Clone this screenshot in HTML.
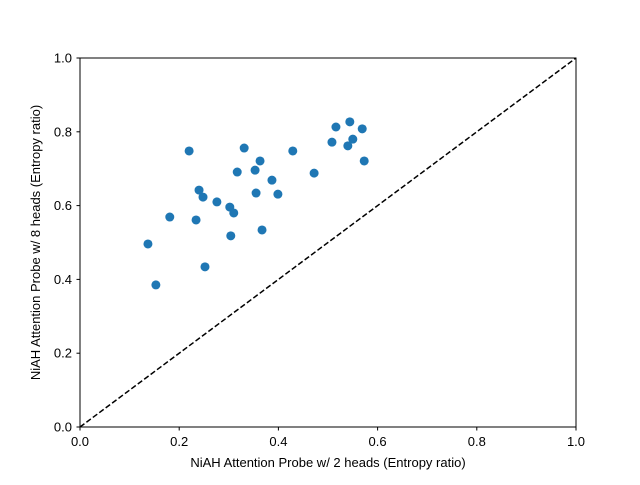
<!DOCTYPE html>
<html><head><meta charset="utf-8"><style>
body{margin:0;background:#fff;}
svg text{font-family:"Liberation Sans","DejaVu Sans",sans-serif;font-size:13px;fill:#000;}
</style></head><body>
<svg id="chart" width="640" height="480">
<rect x="0" y="0" width="640" height="480" fill="#fff"/>
<g id="ticks"></g>
<line id="diag" stroke="#000" stroke-width="1.5" stroke-dasharray="5.5,2.5"/>
<g id="pts"></g>
<rect x="80" y="58" width="496" height="369" fill="none" stroke="#000" stroke-width="1"/>
<text x="328" y="467" text-anchor="middle">NiAH Attention Probe w/ 2 heads (Entropy ratio)</text>
<text transform="translate(40,242.5) rotate(-90)" text-anchor="middle">NiAH Attention Probe w/ 8 heads (Entropy ratio)</text>
</svg>
<script>
const xs=[0.137,0.153,0.181,0.220,0.234,0.240,0.248,0.252,0.276,0.302,0.304,0.310,0.317,0.331,0.353,0.355,0.363,0.367,0.387,0.399,0.429,0.472,0.508,0.516,0.540,0.544,0.550,0.569,0.573];
const ys=[0.496,0.385,0.569,0.748,0.561,0.642,0.623,0.434,0.610,0.596,0.518,0.580,0.691,0.756,0.696,0.634,0.721,0.534,0.669,0.631,0.748,0.688,0.772,0.813,0.762,0.827,0.780,0.808,0.721];
const tickVals=[0,0.2,0.4,0.6,0.8,1.0];
const tickLabels=["0.0","0.2","0.4","0.6","0.8","1.0"];
const X=v=>80+v*496, Y=v=>427-v*369;
const NS="http://www.w3.org/2000/svg";
const tg=document.getElementById('ticks');
tickVals.forEach((v,i)=>{
  let l=document.createElementNS(NS,'line');
  l.setAttribute('x1',X(v));l.setAttribute('x2',X(v));l.setAttribute('y1',427);l.setAttribute('y2',430.5);l.setAttribute('stroke','#000');
  
  
  tg.appendChild(l);
  let t=document.createElementNS(NS,'text');
  t.setAttribute('x',X(v));t.setAttribute('y',446);t.setAttribute('text-anchor','middle');t.textContent=tickLabels[i];
  
  
  tg.appendChild(t);
  let l2=document.createElementNS(NS,'line');
  l2.setAttribute('x1',76.5);l2.setAttribute('x2',80);l2.setAttribute('y1',Y(v));l2.setAttribute('y2',Y(v));l2.setAttribute('stroke','#000');
  
  
  tg.appendChild(l2);
  let t2=document.createElementNS(NS,'text');
  t2.setAttribute('x',72);t2.setAttribute('y',Y(v)+4.5);t2.setAttribute('text-anchor','end');t2.textContent=tickLabels[i];
  
  
  tg.appendChild(t2);
});
const d=document.getElementById('diag');
d.setAttribute('x1',X(0));d.setAttribute('y1',Y(0));d.setAttribute('x2',X(1));d.setAttribute('y2',Y(1));
const pg=document.getElementById('pts');
xs.forEach((x,i)=>{
  let c=document.createElementNS(NS,'circle');
  c.setAttribute('cx',X(x));c.setAttribute('cy',Y(ys[i]));c.setAttribute('r',4.5);c.setAttribute('fill','#1f77b4');
  
  
  pg.appendChild(c);
});
</script>
</body></html>
